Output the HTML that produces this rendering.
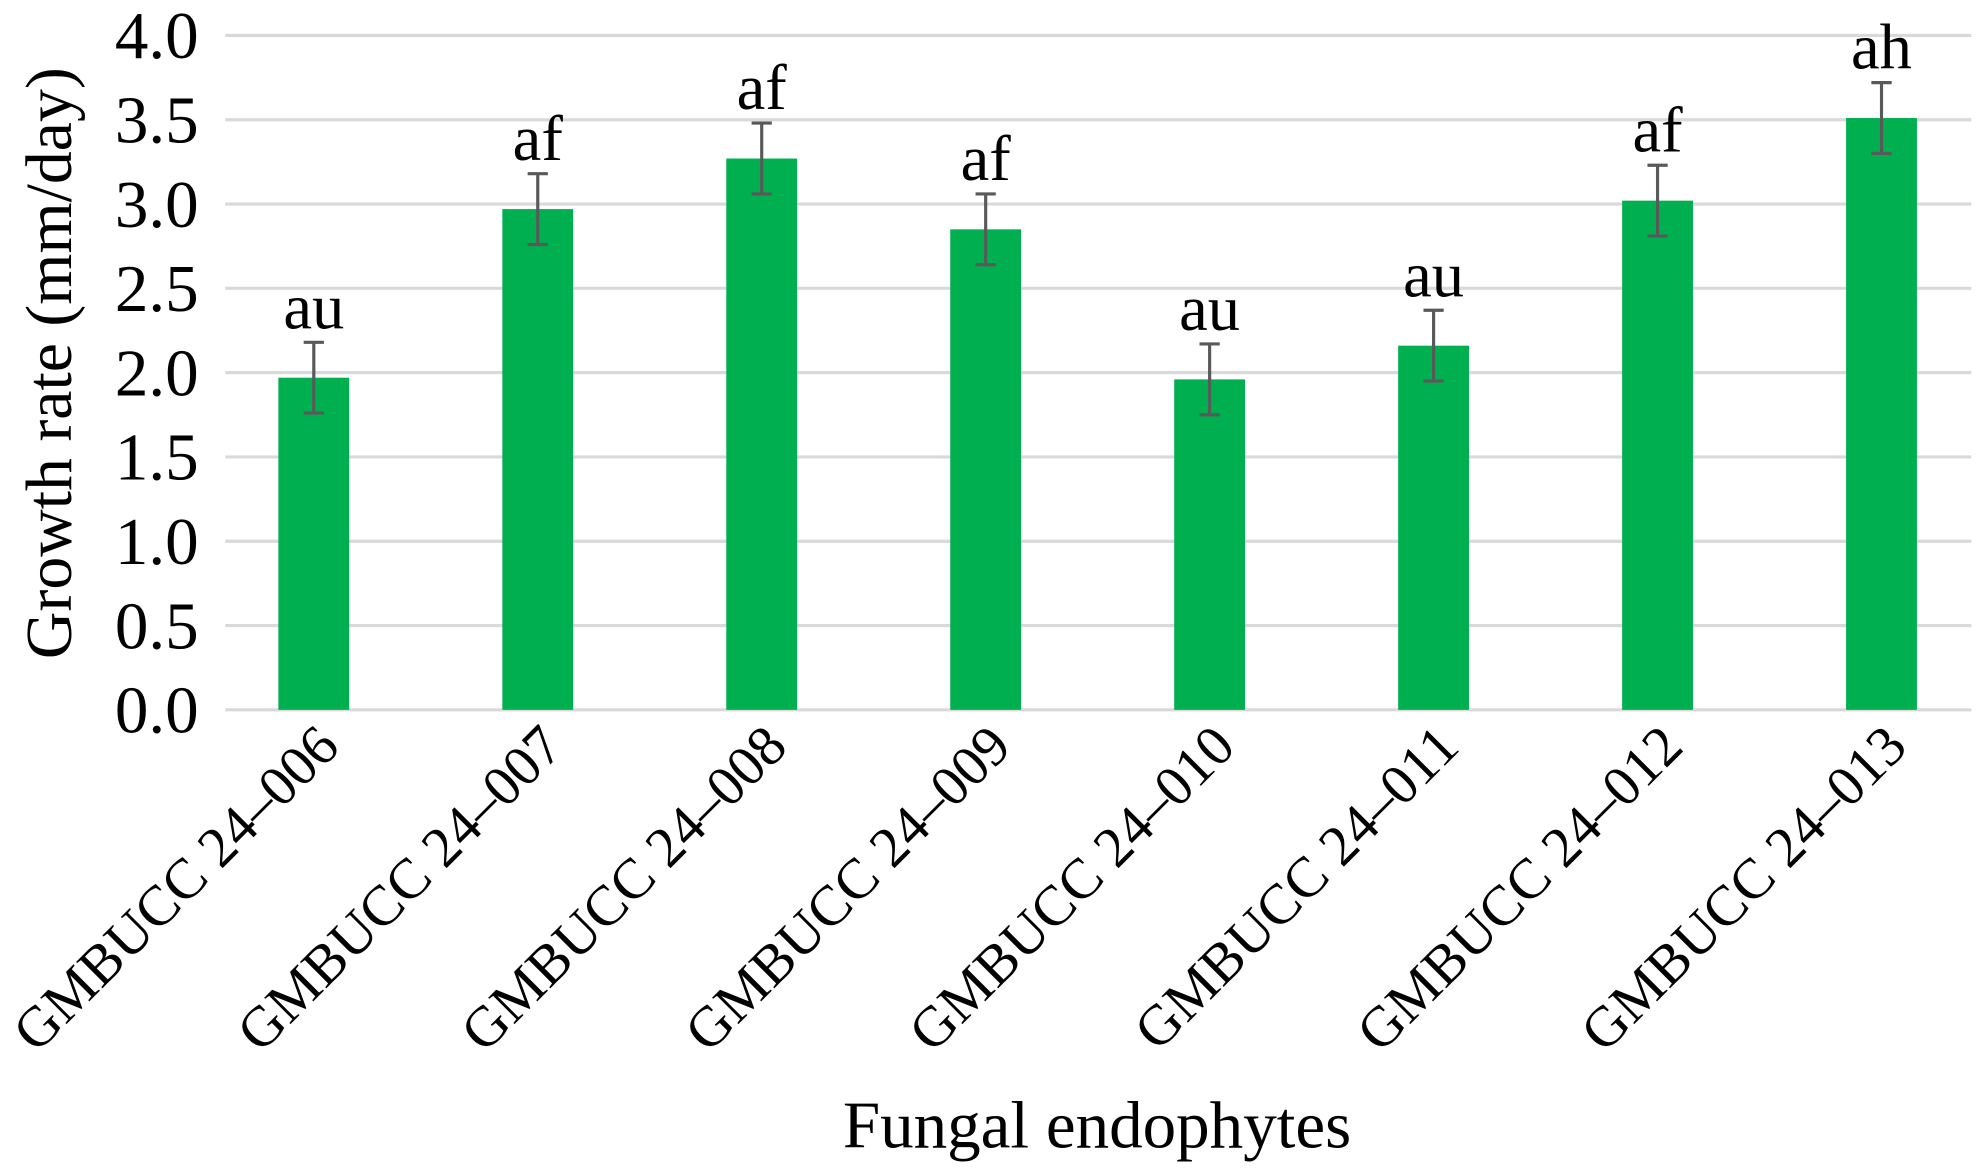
<!DOCTYPE html>
<html><head><meta charset="utf-8"><style>html,body{margin:0;padding:0;background:#fff}svg{display:block}text{font-family:"Liberation Serif",serif;fill:#000}</style></head>
<body>
<svg width="1984" height="1176" viewBox="0 0 1568 929.4" preserveAspectRatio="none" xmlns="http://www.w3.org/2000/svg">
<g id="grid"></g><g id="bars"></g><g id="labels"></g>
<text transform="translate(56,287) rotate(-90)" text-anchor="middle" font-size="52">Growth rate (mm/day)</text>
<text x="867" y="907" text-anchor="middle" font-size="53">Fungal endophytes</text>
</svg>
<script>
const categories=["GMBUCC 24–006","GMBUCC 24–007","GMBUCC 24–008","GMBUCC 24–009","GMBUCC 24–010","GMBUCC 24–011","GMBUCC 24–012","GMBUCC 24–013"];
const values=[1.97,2.97,3.27,2.85,1.96,2.16,3.02,3.51];
const errors=[0.21,0.21,0.21,0.21,0.21,0.21,0.21,0.21];
const letters=["au","af","af","af","au","au","af","ah"];
const yTicks=["0.0","0.5","1.0","1.5","2.0","2.5","3.0","3.5","4.0"];
const NS="http://www.w3.org/2000/svg";
const y=v=>561-v*133.25;
const x=i=>248+i*177;
function mk(t,a,p){const e=document.createElementNS(NS,t);for(const k in a)e.setAttribute(k,a[k]);p.appendChild(e);return e;}
const G=document.getElementById('grid'),B=document.getElementById('bars'),L=document.getElementById('labels');
yTicks.forEach(t=>{const v=parseFloat(t);
const l=mk('line',{x1:178,x2:1558,y1:y(v),y2:y(v),stroke:'#d9d9d9','stroke-width':2.5},G);


const tx=mk('text',{x:157,y:y(v)+18,'text-anchor':'end','font-size':53},G);tx.textContent=t;

});
values.forEach((v,i)=>{
const r=mk('rect',{x:x(i)-28,y:y(v),width:56,height:y(0)-y(v),fill:'#00b050'},B);


const hi=y(v+errors[i]),lo=y(v-errors[i]);
const eb=mk('path',{d:`M${x(i)},${hi}V${lo}M${x(i)-8},${hi}H${x(i)+8}M${x(i)-8},${lo}H${x(i)+8}`,stroke:'#595959','stroke-width':2.5,fill:'none'},B);


const lt=mk('text',{x:x(i),y:hi-11,'text-anchor':'middle','font-size':51},L);lt.textContent=letters[i];


const cl=mk('text',{transform:`translate(${x(i)+22},${592}) rotate(-45)`,'text-anchor':'end','font-size':45},L);cl.textContent=categories[i];


});
</script>
</body></html>
